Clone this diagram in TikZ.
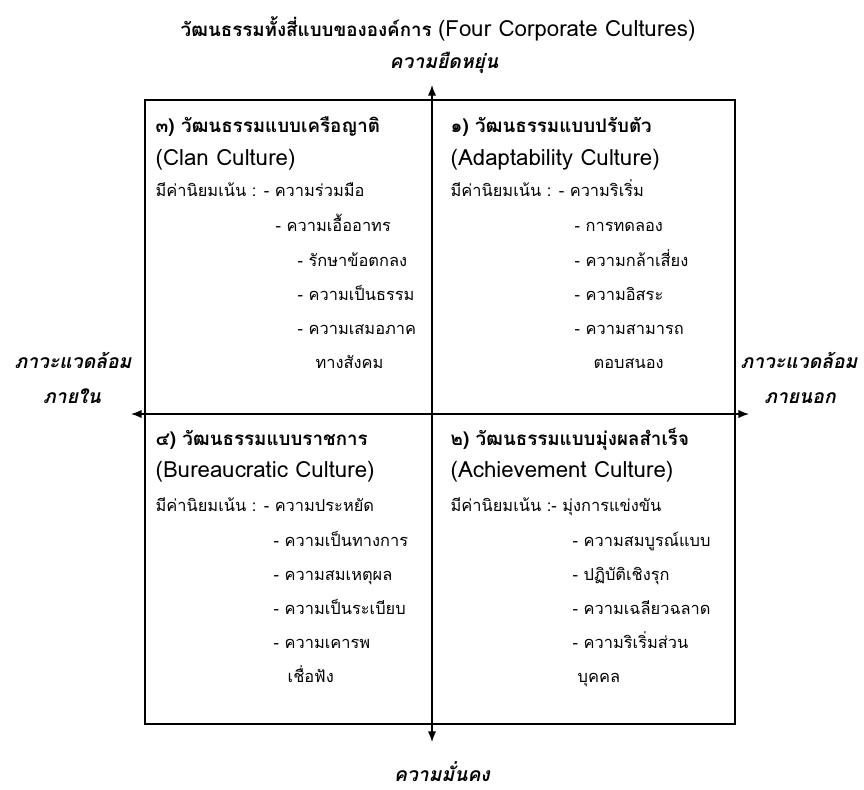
\documentclass[tikz,border=0pt]{standalone}
\usepackage{fontspec}
\setmainfont[Script=Thai]{Loma}
\usetikzlibrary{arrows.meta}

% Latin text is set larger than the Thai text
\newcommand\en[1]{{\fontsize{19}{22}\selectfont #1}}

\tikzset{
  txt/.style={anchor=base west,inner sep=0pt,font=\fontsize{14}{16}\selectfont},
  hd/.style={txt,font=\fontsize{16}{18}\selectfont\bfseries},
  ax/.style={anchor=base,inner sep=0pt,font=\fontsize{16.5}{18}\selectfont\bfseries\itshape},
  tip/.style={{Latex[length=9pt,width=7pt]}-{Latex[length=9pt,width=7pt]}}
}

\begin{document}
\begin{tikzpicture}[x=0.3mm,y=-0.3mm,line width=1.1pt]
            \useasboundingbox (0,0) rectangle (864,789);
            \draw (145,100) rectangle (735,724);
            \coordinate (up) at (432,85);
            \coordinate (down) at (432,742);
            \coordinate (inl) at (131,414);
            \coordinate (outr) at (749,414);
            \draw[tip] (down)--(up);
            \draw[tip] (inl)--(outr);
            \node[ax,font=\fontsize{16}{18}\selectfont\bfseries] (title) at (438,36){วัฒนธรรมทั้งสี่แบบขององค์การ {\mdseries\fontsize{19}{22}\selectfont (Four Corporate Cultures)}};
            \node[ax] (flex) at (444,68){ความยืดหยุ่น};
            \node[ax] (stab) at (442,781){ความมั่นคง};
            \node[ax] (int1) at (73,368){ภาวะแวดล้อม};
            \node[ax] (int2) at (72,403){ภายใน};
            \node[ax] (ext1) at (799,368){ภาวะแวดล้อม};
            \node[ax] (ext2) at (800,403){ภายนอก};
            % upper left
            \node[hd] (q3h) at (155,132){๓) วัฒนธรรมแบบเครือญาติ};
            \node[txt] (q3e) at (155,165){\en{(Clan Culture)}};
            \foreach \x/\y/\t [count=\i] in {155/196/{มีค่านิยมเน้น : - ความร่วมมือ},275/231/{- ความเอื้ออาทร},297/266/{- รักษาข้อตกลง},297/300/{- ความเป็นธรรม},297/334/{- ความเสมอภาค},315/368/{ทางสังคม}}{
                \node[txt] (q3-\i) at (\x,\y){\t};
            }
            % upper right
            \node[hd] (q1h) at (450,132){๑) วัฒนธรรมแบบปรับตัว};
            \node[txt] (q1e) at (450,165){\en{(Adaptability Culture)}};
            \foreach \x/\y/\t [count=\i] in {450/196/{มีค่านิยมเน้น : - ความริเริ่ม},574/231/{- การทดลอง},574/266/{- ความกล้าเสี่ยง},574/300/{- ความอิสระ},574/334/{- ความสามารถ},593/368/{ตอบสนอง}}{
                \node[txt] (q1-\i) at (\x,\y){\t};
            }
            % lower left
            \node[hd] (q4h) at (155,445){๔) วัฒนธรรมแบบราชการ};
            \node[txt] (q4e) at (155,477){\en{(Bureaucratic Culture)}};
            \foreach \x/\y/\t [count=\i] in {155/511/{มีค่านิยมเน้น : - ความประหยัด},273/546/{- ความเป็นทางการ},273/580/{- ความสมเหตุผล},273/614/{- ความเป็นระเบียบ},273/648/{- ความเคารพ},287/682/{เชื่อฟัง}}{
                \node[txt] (q4-\i) at (\x,\y){\t};
            }
            % lower right
            \node[hd] (q2h) at (450,445){๒) วัฒนธรรมแบบมุ่งผลสำเร็จ};
            \node[txt] (q2e) at (450,477){\en{(Achievement Culture)}};
            \foreach \x/\y/\t [count=\i] in {450/511/{มีค่านิยมเน้น :- มุ่งการแข่งขัน},572/546/{- ความสมบูรณ์แบบ},572/580/{- ปฏิบัติเชิงรุก},572/614/{- ความเฉลียวฉลาด},572/648/{- ความริเริ่มส่วน},577/682/{บุคคล}}{
                \node[txt] (q2-\i) at (\x,\y){\t};
            }
\end{tikzpicture}
\end{document}
